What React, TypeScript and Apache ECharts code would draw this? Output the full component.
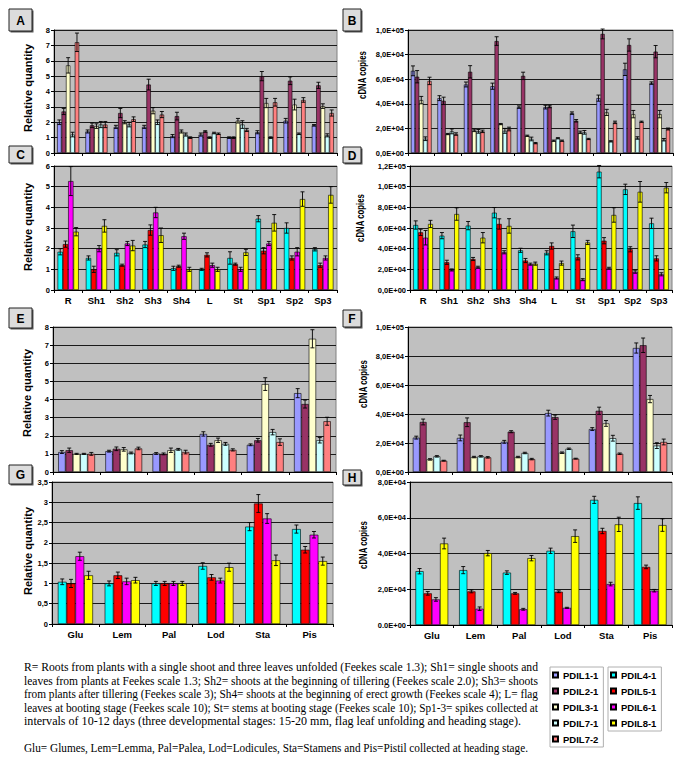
import React, { useEffect, useRef } from 'react';
import * as echarts from 'echarts';

// ---------- categories ----------
const stagesAD = ['R', 'Sh1', 'Sh2', 'Sh3', 'Sh4', 'L', 'St', 'Sp1', 'Sp2', 'Sp3'];
const organsEH = ['Glu', 'Lem', 'Pal', 'Lod', 'Sta', 'Pis'];

// ---------- tick labels ----------
const ticksRel8 = ['0', '1', '2', '3', '4', '5', '6', '7', '8'];
const ticksRel6 = ['0', '1', '2', '3', '4', '5', '6'];
const ticksRel35 = ['0', '0,5', '1', '1,5', '2', '2,5', '3', '3,5'];
const ticksB = ['0,0E+00', '2,0E+04', '4,0E+04', '6,0E+04', '8,0E+04', '1,0E+05'];
const ticksD = ['0,0E+00', '2,0E+04', '4,0E+04', '6,0E+04', '8,0E+04', '1,0E+05', '1,2E+05'];
const ticksF = ['0,0E+00', '2,0E+04', '4,0E+04', '6,0E+04', '8,0E+04', '1,0E+05'];
const ticksH = ['0.0E+00', '2,0E+04', '4,0E+04', '6,0E+04', '8,0E+04'];

// ---------- Panel A (relative quantity) ----------
const A_11 = [2.0, 1.4, 1.7, 1.7, 1.1, 1.2, 1.0, 1.35, 2.1, 1.8];
const A_11e = [0.15, 0.1, 0.1, 0.1, 0.1, 0.1, 0.05, 0.1, 0.15, 0.05];
const A_21 = [2.7, 1.8, 2.6, 4.45, 2.4, 1.4, 1.0, 5.0, 4.7, 4.4];
const A_21e = [0.2, 0.15, 0.3, 0.35, 0.25, 0.05, 0.05, 0.3, 0.25, 0.2];
const A_31 = [5.7, 1.75, 2.0, 2.75, 1.4, 1.0, 2.1, 3.25, 3.15, 3.05];
const A_31e = [0.5, 0.15, 0.1, 0.2, 0.1, 0.05, 0.15, 0.3, 0.35, 0.15];
const A_71 = [1.2, 1.85, 1.85, 2.0, 1.2, 1.3, 1.85, 1.0, 1.25, 1.15];
const A_71e = [0.15, 0.2, 0.15, 0.15, 0.1, 0.05, 0.25, 0.05, 0.05, 0.1];
const A_72 = [7.2, 1.85, 2.2, 2.5, 1.0, 1.25, 1.5, 3.3, 3.45, 2.6];
const A_72e = [0.6, 0.2, 0.15, 0.2, 0.05, 0.05, 0.1, 0.25, 0.15, 0.2];

// ---------- Panel B (cDNA copies) ----------
const B_11 = [66800, 44600, 55700, 54300, 37300, 37300, 32400, 44600, 68000, 56800];
const B_11e = [4000, 2000, 2000, 2500, 1000, 1500, 1000, 2500, 5000, 1000];
const B_21 = [62000, 42400, 66000, 91000, 62700, 37800, 26200, 96800, 87800, 82400];
const B_21e = [5000, 3000, 5000, 3500, 3000, 1000, 1000, 4000, 5000, 5000];
const B_31 = [43000, 15400, 18400, 23500, 14000, 10000, 16800, 33000, 31600, 31600];
const B_31e = [3000, 500, 1000, 500, 500, 500, 1000, 2500, 3000, 3000];
const B_71 = [11600, 17600, 17600, 18000, 11400, 12000, 16800, 9500, 12200, 10800];
const B_71e = [1500, 2000, 1500, 2000, 1500, 500, 1500, 500, 1000, 1000];
const B_72 = [58600, 15400, 17600, 19500, 8000, 10000, 11400, 24900, 25400, 19500];
const B_72e = [3000, 1000, 1000, 1500, 500, 500, 500, 1000, 500, 800];

// ---------- Panel C (relative quantity) ----------
const C_41 = [1.85, 1.55, 1.8, 2.2, 1.05, 1.0, 1.55, 3.45, 3.0, 1.97];
const C_41e = [0.15, 0.1, 0.15, 0.15, 0.1, 0.05, 0.3, 0.15, 0.25, 0.08];
const C_51 = [2.22, 1.0, 1.2, 2.9, 1.15, 1.7, 1.25, 1.9, 1.55, 1.2];
const C_51e = [0.15, 0.15, 0.05, 0.25, 0.05, 0.1, 0.05, 0.15, 0.1, 0.1];
const C_61 = [5.27, 2.0, 2.25, 3.75, 2.6, 1.2, 1.0, 2.25, 1.85, 1.55];
const C_61e = [0.7, 0.15, 0.1, 0.25, 0.15, 0.1, 0.1, 0.1, 0.2, 0.1];
const C_81 = [2.82, 3.1, 2.15, 2.65, 1.0, 1.0, 1.82, 3.25, 4.4, 4.6];
const C_81e = [0.2, 0.3, 0.25, 0.35, 0.1, 0.1, 0.15, 0.4, 0.35, 0.4];

// ---------- Panel D (cDNA copies) ----------
const D_41 = [62900, 52600, 62300, 74800, 38400, 36000, 56800, 114500, 97400, 64500];
const D_41e = [4000, 3000, 4000, 5000, 2000, 2000, 6000, 6000, 5000, 5000];
const D_51 = [55800, 26800, 30000, 63900, 28500, 42600, 31600, 47700, 39400, 30600];
const D_51e = [3000, 2000, 1500, 5000, 2000, 3000, 2500, 3000, 2500, 2500];
const D_61 = [50600, 19400, 22000, 36500, 25000, 11600, 10000, 21000, 17700, 15200];
const D_61e = [7000, 1000, 1000, 1500, 1000, 1000, 1000, 1000, 1500, 1500];
const D_81 = [63900, 73500, 50600, 62000, 25500, 26000, 46000, 72600, 95000, 99000];
const D_81e = [3500, 6000, 5000, 7000, 1500, 2000, 2000, 7000, 10000, 5000];

// ---------- Panel E (relative quantity) ----------
const E_11 = [1.1, 1.15, 1.02, 2.1, 1.5, 4.35];
const E_11e = [0.08, 0.05, 0.05, 0.12, 0.05, 0.25];
const E_21 = [1.2, 1.28, 1.0, 1.5, 1.75, 3.75];
const E_21e = [0.12, 0.1, 0.05, 0.08, 0.1, 0.22];
const E_31 = [1.0, 1.25, 1.2, 1.75, 4.85, 7.35];
const E_31e = [0.03, 0.1, 0.12, 0.12, 0.35, 0.5];
const E_71 = [1.0, 1.05, 1.25, 1.55, 2.2, 1.75];
const E_71e = [0.03, 0.05, 0.05, 0.08, 0.15, 0.15];
const E_72 = [1.0, 1.3, 1.1, 1.22, 1.65, 2.8];
const E_72e = [0.08, 0.07, 0.1, 0.06, 0.18, 0.22];

// ---------- Panel F (cDNA copies) ----------
const F_11 = [23700, 23500, 20800, 40600, 29600, 85500];
const F_11e = [1000, 2000, 1000, 2000, 1000, 3500];
const F_21 = [34500, 34300, 27800, 37800, 42200, 87400];
const F_21e = [2000, 3000, 700, 1500, 2500, 5000];
const F_31 = [8700, 10300, 10300, 13300, 33500, 50300];
const F_31e = [500, 500, 500, 500, 2000, 2500];
const F_71 = [10800, 10800, 13100, 16000, 23300, 18200];
const F_71e = [500, 500, 500, 500, 2000, 2000];
const F_72 = [7800, 10100, 8900, 9200, 12600, 20700];
const F_72e = [300, 500, 500, 300, 500, 2000];

// ---------- Panel G (relative quantity) ----------
const G_41 = [1.04, 1.0, 1.0, 1.43, 2.4, 2.34];
const G_41e = [0.07, 0.06, 0.05, 0.08, 0.1, 0.1];
const G_51 = [1.0, 1.2, 1.0, 1.15, 2.97, 1.83];
const G_51e = [0.1, 0.08, 0.05, 0.07, 0.22, 0.08];
const G_61 = [1.67, 1.05, 1.0, 1.07, 2.6, 2.2];
const G_61e = [0.1, 0.08, 0.05, 0.06, 0.12, 0.08];
const G_81 = [1.2, 1.08, 1.0, 1.4, 1.57, 1.55];
const G_81e = [0.1, 0.07, 0.05, 0.1, 0.13, 0.1];

// ---------- Panel H (cDNA copies) ----------
const H_41 = [30100, 30700, 29300, 41500, 70000, 68200];
const H_41e = [1500, 2000, 1000, 1500, 2000, 3500];
const H_51 = [17700, 18800, 17700, 18600, 52600, 32500];
const H_51e = [1000, 800, 500, 500, 1500, 1000];
const H_61 = [14300, 9100, 8800, 9600, 22900, 19200];
const H_61e = [1000, 1000, 500, 300, 1000, 700];
const H_81 = [45600, 40200, 37400, 49700, 56300, 55900];
const H_81e = [3000, 1500, 1500, 3500, 4000, 3500];

const legendLeft = ['PDIL1-1', 'PDIL2-1', 'PDIL3-1', 'PDIL7-1', 'PDIL7-2'];
const legendRight = ['PDIL4-1', 'PDIL5-1', 'PDIL6-1', 'PDIL8-1'];

const captionLines = [
  'R= Roots from plants with a single shoot and three leaves unfolded (Feekes scale 1.3); Sh1= single shoots and',
  'leaves from plants at Feekes scale 1.3; Sh2= shoots at the beginning of tillering (Feekes scale 2.0); Sh3= shoots',
  'from plants after tillering (Feekes scale 3); Sh4= shoots at the beginning of erect growth (Feekes scale 4); L= flag',
  'leaves at booting stage (Feekes scale 10); St= stems at booting stage (Feekes scale 10); Sp1-3= spikes collected at',
  'intervals of 10-12 days (three developmental stages: 15-20 mm, flag leaf unfolding and heading stage).',
  'Glu= Glumes, Lem=Lemma, Pal=Palea, Lod=Lodicules, Sta=Stamens and Pis=Pistil collected at heading stage.',
];
// target widths (px) of each caption line in the picture
const captionWidths = [514, 514, 514, 514, 497, 504];

const COLOR: Record<string, string> = {
  'PDIL1-1': '#9999ff',
  'PDIL2-1': '#993366',
  'PDIL3-1': '#ffffcc',
  'PDIL7-1': '#ccffff',
  'PDIL7-2': '#ff8080',
  'PDIL4-1': '#00ffff',
  'PDIL5-1': '#ff0000',
  'PDIL6-1': '#ff00ff',
  'PDIL8-1': '#ffff00',
};

const SANS = '"Liberation Sans", Arial, sans-serif';
const SERIF = '"Liberation Serif", "Times New Roman", serif';

type Ser = [string, number[], number[]];
interface Panel {
  key: string;
  l: number; t: number; w: number; h: number;
  cats: string[];
  labels: boolean;
  max: number;
  interval: number;
  ticks: string[];
  gap: number;
  series: Ser[];
  box: [number, number, number, number];
  yname: string;
  nx: number; ny: number; nscale: number;
}

const panels: Panel[] = [
  {
    key: 'A', l: 54, t: 30, w: 283, h: 123, cats: stagesAD, labels: false, max: 8, interval: 1, ticks: ticksRel8, gap: 0.22,
    series: [['PDIL1-1', A_11, A_11e], ['PDIL2-1', A_21, A_21e], ['PDIL3-1', A_31, A_31e], ['PDIL7-1', A_71, A_71e], ['PDIL7-2', A_72, A_72e]],
    box: [9, 9, 23, 22], yname: 'Relative quantity', nx: 27.5, ny: 88, nscale: 1,
  },
  {
    key: 'B', l: 408, t: 30, w: 265, h: 123, cats: stagesAD, labels: false, max: 100000, interval: 20000, ticks: ticksB, gap: 0.22,
    series: [['PDIL1-1', B_11, B_11e], ['PDIL2-1', B_21, B_21e], ['PDIL3-1', B_31, B_31e], ['PDIL7-1', B_71, B_71e], ['PDIL7-2', B_72, B_72e]],
    box: [343, 9, 18, 22], yname: 'cDNA copies', nx: 362, ny: 75, nscale: 0.71,
  },
  {
    key: 'C', l: 54, t: 166, w: 283, h: 124, cats: stagesAD, labels: true, max: 6, interval: 1, ticks: ticksRel6, gap: 0.25,
    series: [['PDIL4-1', C_41, C_41e], ['PDIL5-1', C_51, C_51e], ['PDIL6-1', C_61, C_61e], ['PDIL8-1', C_81, C_81e]],
    box: [9, 146, 23, 17], yname: 'Relative quantity', nx: 27.5, ny: 227, nscale: 1,
  },
  {
    key: 'D', l: 410, t: 166, w: 262, h: 124, cats: stagesAD, labels: true, max: 120000, interval: 20000, ticks: ticksD, gap: 0.25,
    series: [['PDIL4-1', D_41, D_41e], ['PDIL5-1', D_51, D_51e], ['PDIL6-1', D_61, D_61e], ['PDIL8-1', D_81, D_81e]],
    box: [343, 147, 18, 16], yname: 'cDNA copies', nx: 359.5, ny: 218, nscale: 0.71,
  },
  {
    key: 'E', l: 53, t: 327, w: 283, h: 145, cats: organsEH, labels: false, max: 8, interval: 1, ticks: ticksRel8, gap: 0.22,
    series: [['PDIL1-1', E_11, E_11e], ['PDIL2-1', E_21, E_21e], ['PDIL3-1', E_31, E_31e], ['PDIL7-1', E_71, E_71e], ['PDIL7-2', E_72, E_72e]],
    box: [9, 308, 23, 20], yname: 'Relative quantity', nx: 27, ny: 393, nscale: 1,
  },
  {
    key: 'F', l: 408, t: 327, w: 264, h: 145, cats: organsEH, labels: false, max: 100000, interval: 20000, ticks: ticksF, gap: 0.22,
    series: [['PDIL1-1', F_11, F_11e], ['PDIL2-1', F_21, F_21e], ['PDIL3-1', F_31, F_31e], ['PDIL7-1', F_71, F_71e], ['PDIL7-2', F_72, F_72e]],
    box: [343, 310, 18, 17], yname: 'cDNA copies', nx: 363, ny: 384, nscale: 0.71,
  },
  {
    key: 'G', l: 52, t: 482, w: 281, h: 142, cats: organsEH, labels: true, max: 3.5, interval: 0.5, ticks: ticksRel35, gap: 0.25,
    series: [['PDIL4-1', G_41, G_41e], ['PDIL5-1', G_51, G_51e], ['PDIL6-1', G_61, G_61e], ['PDIL8-1', G_81, G_81e]],
    box: [9, 465, 23, 19], yname: 'Relative quantity', nx: 27.5, ny: 551, nscale: 1,
  },
  {
    key: 'H', l: 410, t: 482, w: 262, h: 143, cats: organsEH, labels: true, max: 80000, interval: 20000, ticks: ticksH, gap: 0.25,
    series: [['PDIL4-1', H_41, H_41e], ['PDIL5-1', H_51, H_51e], ['PDIL6-1', H_61, H_61e], ['PDIL8-1', H_81, H_81e]],
    box: [343, 470, 18, 15], yname: 'cDNA copies', nx: 363, ny: 545, nscale: 0.71,
  },
];

function buildOption() {
  const grid: any[] = [];
  const xAxis: any[] = [];
  const yAxis: any[] = [];
  const series: any[] = [];
  const graphic: any[] = [];

  panels.forEach((p, gi) => {
    grid.push({
      left: p.l, top: p.t, width: p.w, height: p.h, show: true,
      backgroundColor: '#c0c0c0', borderColor: '#808080', borderWidth: 1,
      containLabel: false, outerBoundsMode: 'none',
    });
    xAxis.push({
      type: 'category', gridIndex: gi, data: p.cats,
      axisLine: { show: true, lineStyle: { color: '#000', width: 1 } },
      axisTick: { show: true, length: 3, alignWithLabel: false, lineStyle: { color: '#000' } },
      axisLabel: {
        show: p.labels, interval: 0, margin: 5, color: '#000',
        fontFamily: SANS, fontWeight: 'bold', fontSize: 9.5,
      },
      splitLine: { show: false },
    });
    yAxis.push({
      type: 'value', gridIndex: gi, min: 0, max: p.max, interval: p.interval,
      axisLine: { show: true, lineStyle: { color: '#000', width: 1 } },
      axisTick: { show: true, length: 3, lineStyle: { color: '#000' } },
      axisLabel: {
        margin: 4, color: '#000', fontFamily: SANS, fontWeight: 'bold', fontSize: 7.5,
        formatter: (v: number) => p.ticks[Math.round(v / p.interval)] ?? '',
      },
      splitLine: { show: true, lineStyle: { color: '#1a1a1a', width: 1 } },
    });
    const n = p.series.length;
    p.series.forEach(([name, vals]) => {
      series.push({
        type: 'bar', name, xAxisIndex: gi, yAxisIndex: gi, data: vals,
        barGap: '0%', barCategoryGap: `${p.gap * 100}%`,
        itemStyle: { color: COLOR[name], borderColor: '#000', borderWidth: 0.6 },
        emphasis: { disabled: true }, z: 2,
      });
    });
    p.series.forEach(([name, vals, errs], si) => {
      series.push({
        type: 'custom', name: `${p.key} ${name} error`, xAxisIndex: gi, yAxisIndex: gi, z: 5,
        data: vals.map((v, i) => [i, v, errs[i]]),
        encode: { x: 0, y: 1 },
        silent: true,
        renderItem: (_params: any, api: any) => {
          const ci = api.value(0) as number;
          const v = api.value(1) as number;
          const e = api.value(2) as number;
          const band = (api.size([1, 0]) as number[])[0];
          const groupW = band * (1 - p.gap);
          const bw = groupW / n;
          const c = api.coord([ci, v]);
          const cx = c[0] - groupW / 2 + bw * (si + 0.5);
          const yT = api.coord([ci, v + e])[1];
          const yB = api.coord([ci, Math.max(0, v - e)])[1];
          const cap = 2;
          const st = { stroke: '#000', lineWidth: 0.9 };
          return {
            type: 'group',
            children: [
              { type: 'line', shape: { x1: cx, y1: yT, x2: cx, y2: yB }, style: st },
              { type: 'line', shape: { x1: cx - cap, y1: yT, x2: cx + cap, y2: yT }, style: st },
              { type: 'line', shape: { x1: cx - cap, y1: yB, x2: cx + cap, y2: yB }, style: st },
            ],
          };
        },
      });
    });

    const [bx, by, bwid, bh] = p.box;
    graphic.push({
      type: 'rect', shape: { x: bx + 1.5, y: by + 1.5, width: bwid, height: bh },
      style: { fill: '#555' }, silent: true, z: 10,
    });
    graphic.push({
      type: 'rect', shape: { x: bx, y: by, width: bwid, height: bh },
      style: { fill: '#dcdcdc', stroke: '#222', lineWidth: 1 }, silent: true, z: 11,
    });
    graphic.push({
      type: 'text', x: bx + bwid / 2, y: by + bh / 2 + 0.5, silent: true, z: 12,
      style: { text: p.key, fontFamily: SANS, fontWeight: 'bold', fontSize: 12, fill: '#000', align: 'center', verticalAlign: 'middle' },
    });
    graphic.push({
      type: 'text', x: p.nx, y: p.ny, rotation: Math.PI / 2, scaleX: p.nscale, silent: true, z: 12,
      style: { text: p.yname, fontFamily: SANS, fontWeight: 'bold', fontSize: 11, fill: '#000', align: 'center', verticalAlign: 'middle' },
    });
  });

  const legendCommon = {
    orient: 'vertical', itemWidth: 5, itemHeight: 5, itemGap: 6,
    padding: [3, 5, 3, 2], borderColor: '#b0b0b0', borderWidth: 1, icon: 'rect',
    selectedMode: false,
    textStyle: { fontFamily: SANS, fontWeight: 'bold', fontSize: 9.5, color: '#000', lineHeight: 10 },
  };

  return {
    animation: false,
    backgroundColor: '#ffffff',
    textStyle: { fontFamily: SANS },
    grid, xAxis, yAxis, series, graphic,
    legend: [
      { ...legendCommon, data: legendLeft, left: 550, top: 667 },
      { ...legendCommon, data: legendRight, left: 608, top: 667 },
    ],
  };
}

const CAP_FONT_SIZE = 12;
function measure(text: string): number {
  try {
    const ctx = document.createElement('canvas').getContext('2d');
    if (!ctx) return text.length * 4.8;
    ctx.font = `${CAP_FONT_SIZE}px "Liberation Serif", "Times New Roman", serif`;
    return ctx.measureText(text).width;
  } catch {
    return text.length * 4.8;
  }
}

export default function App() {
  const ref = useRef<HTMLDivElement>(null);
  useEffect(() => {
    if (!ref.current) return;
    const chart = echarts.init(ref.current, null, { renderer: 'svg' });
    chart.setOption(buildOption() as any);
    return () => chart.dispose();
  }, []);

  const lineTops = [660, 673.6, 687.2, 700.8, 714.4, 741];
  return (
    <div style={{ position: 'absolute', left: 0, top: 0, width: 685, height: 781, background: '#fff', overflow: 'hidden' }}>
      <div ref={ref} style={{ position: 'absolute', left: 0, top: 0, width: 685, height: 781 }} />
      {captionLines.map((l, i) => {
        const natural = measure(l);
        const s = captionWidths[i] / natural;
        return (
          <div
            key={i}
            style={{
              position: 'absolute', left: 24, top: lineTops[i], whiteSpace: 'nowrap',
              transform: `scaleX(${s})`, transformOrigin: 'left top',
              fontFamily: SERIF, fontSize: CAP_FONT_SIZE, lineHeight: '14px', color: '#000',
            }}
          >
            {l}
          </div>
        );
      })}
    </div>
  );
}
